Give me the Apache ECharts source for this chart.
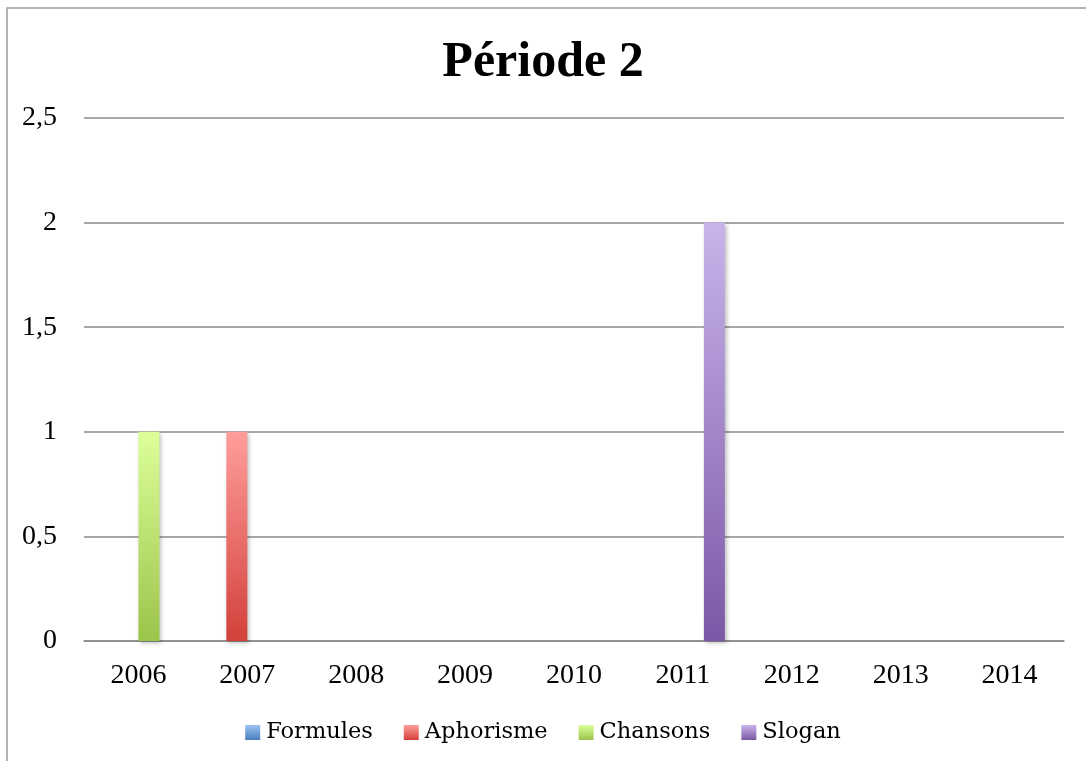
<!DOCTYPE html>
<html>
<head>
<meta charset="utf-8">
<script src="https://cdn.jsdelivr.net/npm/echarts@6/dist/echarts.min.js"></script>
<style>
  html, body { margin: 0; padding: 0; background: #fff; }
  #chart { width: 1086px; height: 761px; }
</style>
</head>
<body>
<div id="chart"></div>
<script>
// données
const years = ['2006', '2007', '2008', '2009', '2010', '2011', '2012', '2013', '2014']
const formules = [0, 0, 0, 0, 0, 0, 0, 0, 0]
const aphorisme = [0, 1, 0, 0, 0, 0, 0, 0, 0]
const chansons = [1, 0, 0, 0, 0, 0, 0, 0, 0]
const slogan = [0, 0, 0, 0, 0, 2, 0, 0, 0]
const yTicks = [0, 0.5, 1, 1.5, 2, 2.5]

const serif = '"Liberation Serif", serif'

// dégradés façon Excel (clair en haut, foncé en bas)
const grad = (top, bottom) => new echarts.graphic.LinearGradient(0, 0, 0, 1, [
  { offset: 0, color: top },
  { offset: 1, color: bottom },
])

const seriesDefs = [
  { name: 'Formules', data: formules, colors: ['#9dc3f4', '#4a7ebb'] },
  { name: 'Aphorisme', data: aphorisme, colors: ['#ff9e9b', '#d3413b'] },
  { name: 'Chansons', data: chansons, colors: ['#dcff9a', '#9bc44a'] },
  { name: 'Slogan', data: slogan, colors: ['#c9b4ea', '#7b58a6'] },
]

const chart = echarts.init(document.getElementById('chart'))
chart.setOption({
  animation: false,
  graphic: [
    {
      type: 'rect',
      shape: { x: 7, y: 8, width: 1200, height: 900 },
      style: { fill: 'none', stroke: '#9a9a9a', lineWidth: 1.5 },
      silent: true,
    },
  ],
  title: {
    text: 'Période 2',
    left: 'center',
    top: 33,
    textStyle: {
      fontFamily: serif,
      fontWeight: 'bold',
      fontSize: 50,
      color: '#000',
    },
  },
  legend: {
    top: 716,
    left: 'center',
    itemWidth: 15,
    itemHeight: 15,
    itemGap: 31,
    icon: 'rect',
    textStyle: { fontFamily: '"DejaVu Serif", serif', fontSize: 22.5, color: '#000', padding: [0, 0, 0, 1] },
    data: seriesDefs.map(s => s.name),
  },
  grid: { left: 84, right: 22, top: 118, bottom: 120 },
  xAxis: {
    type: 'category',
    data: years,
    axisTick: { show: false },
    axisLine: { lineStyle: { color: '#8a8a8a', width: 1.5 } },
    axisLabel: { fontFamily: serif, fontSize: 28, color: '#000', margin: 21 },
  },
  yAxis: {
    type: 'value',
    min: yTicks[0],
    max: yTicks[yTicks.length - 1],
    interval: 0.5,
    axisLine: { show: false },
    axisTick: { show: false },
    splitLine: { lineStyle: { color: '#8a8a8a', width: 1.5 } },
    axisLabel: {
      fontFamily: serif,
      fontSize: 28,
      color: '#000',
      margin: 27,
      formatter: v => String(v).replace('.', ','),
    },
  },
  series: seriesDefs.map(s => ({
    type: 'bar',
    name: s.name,
    data: s.data,
    barWidth: 21,
    barGap: '0%',
    itemStyle: {
      color: grad(s.colors[0], s.colors[1]),
      shadowBlur: 4,
      shadowOffsetX: 2,
      shadowOffsetY: 2,
      shadowColor: 'rgba(0,0,0,0.25)',
    },
  })),
})
</script>
</body>
</html>
